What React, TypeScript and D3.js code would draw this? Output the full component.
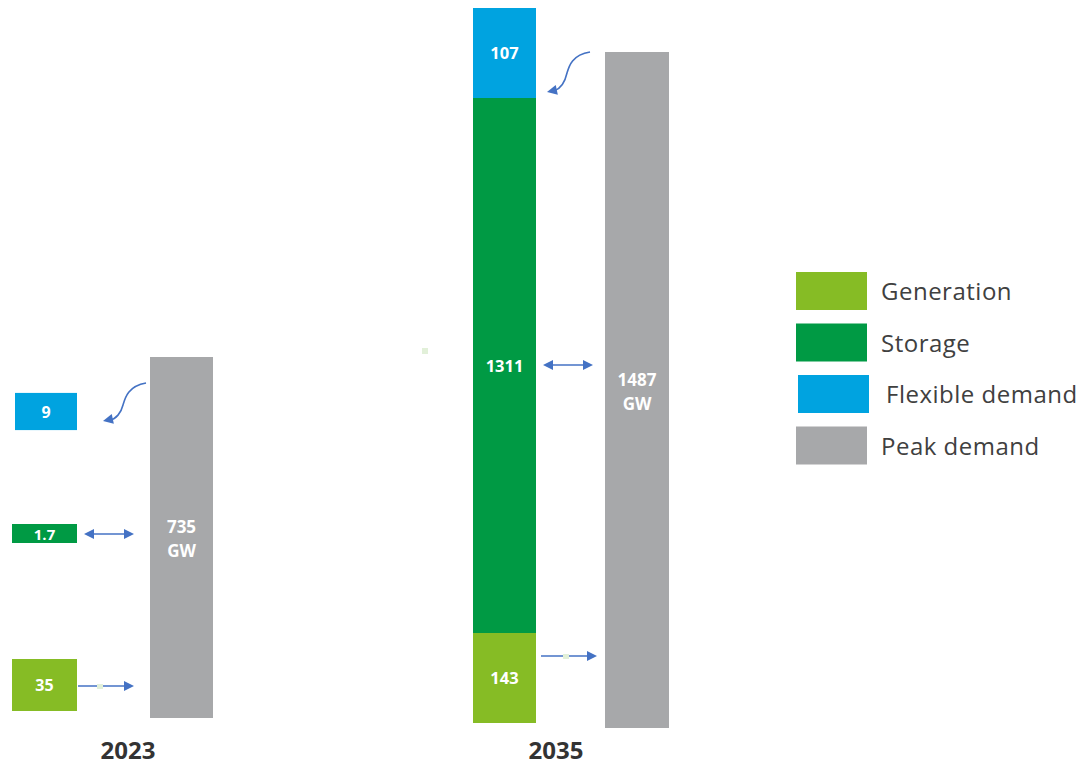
import React from "react";
import * as d3 from "d3";

const categories = ["Generation", "Storage", "Flexible demand"];
const colors = ["#86bc25", "#009a44", "#00a3e0"];
const peakColor = "#a7a8aa";
const years = ["2023", "2035"];
const values2023 = [35, 1.7, 9];
const labels2023 = ["35", "1.7", "9"];
const values2035 = [143, 1311, 107];
const labels2035 = ["143", "1311", "107"];
const peak = [735, 1487];
const legendLabels = ["Generation", "Storage", "Flexible demand", "Peak demand"];

const W = 1090, H = 766;
const ARROW = "#4472c4";

export default function App() {
  // 2023 peak bar scale
  const yPeak23 = d3.scaleLinear().domain([0, peak[0]]).range([718, 357]);
  const yPeak35 = d3.scaleLinear().domain([0, peak[1]]).range([728, 52]);
  // 2035 stack (infographic, piecewise scale)
  const cum = d3.cumsum(values2035);
  const yStack = d3.scaleLinear().domain([0, cum[0], cum[1], cum[2]]).range([723, 633, 98, 8]);
  // 2023 symbolic boxes: height by log scale
  const hBox = d3.scaleLog().domain([1.7, 35]).range([19, 52]);
  const boxCenters = [685, 533.5, 411.5];
  const boxX = [12, 12, 15];

  const font = "'Open Sans', 'DejaVu Sans', sans-serif";

  const arrowHead = (x: number, y: number, angle: number, key: string) => {
    const s = 10, w = 5;
    const p = `M0,0 L${-s},${-w} L${-s},${w} Z`;
    return <path key={key} d={p} fill={ARROW} transform={`translate(${x},${y}) rotate(${angle})`} />;
  };

  return (
    <svg width={W} height={H} style={{ position: "absolute", left: 0, top: 0, background: "#fff" }}>
      {/* 2023 peak bar */}
      <rect x={150} y={yPeak23(peak[0])} width={63} height={yPeak23(0) - yPeak23(peak[0])} fill={peakColor} />
      <text x={181.5} y={533} textAnchor="middle" fill="#fff" fontFamily={font} fontWeight="bold" fontSize={17}>{peak[0]}</text>
      <text x={181.5} y={557} textAnchor="middle" fill="#fff" fontFamily={font} fontWeight="bold" fontSize={17}>GW</text>

      {/* 2023 boxes */}
      {values2023.map((v, i) => {
        const h = hBox(v);
        const x = boxX[i];
        const w = 77 - x;
        return (
          <g key={"b" + i}>
            <rect x={x} y={boxCenters[i] - h / 2} width={w} height={h} fill={colors[i]} />
            <text x={x + w / 2} y={boxCenters[i] + 6} textAnchor="middle" fill="#fff" fontFamily={font} fontWeight="bold" fontSize={i === 1 ? 15 : 16}>{labels2023[i]}</text>
          </g>
        );
      })}

      {/* 2023 arrows */}
      <line x1={78} y1={686} x2={126} y2={686} stroke={ARROW} strokeWidth={1.6} />
      {arrowHead(134, 686, 0, "a1")}
      <rect x={97} y={684} width={6} height={5} fill="#e2f0d9" />
      <line x1={92} y1={534} x2={126} y2={534} stroke={ARROW} strokeWidth={1.6} />
      {arrowHead(134, 534, 0, "a2")}
      {arrowHead(84, 534, 180, "a3")}
      <path d="M146,383 C128,386 125,398 123,405 C121,413 116,419 110,420" fill="none" stroke={ARROW} strokeWidth={1.6} />
      {arrowHead(103, 421, 168, "a4")}

      {/* 2035 stack */}
      {values2035.map((v, i) => {
        const y0 = yStack(i === 0 ? 0 : cum[i - 1]);
        const y1 = yStack(cum[i]);
        return (
          <g key={"s" + i}>
            <rect x={473} y={y1} width={63} height={y0 - y1} fill={colors[i]} />
            <text x={504.5} y={(y0 + y1) / 2 + 6} textAnchor="middle" fill="#fff" fontFamily={font} fontWeight="bold" fontSize={16.5}>{labels2035[i]}</text>
          </g>
        );
      })}

      {/* 2035 peak */}
      <rect x={605} y={yPeak35(peak[1])} width={64} height={yPeak35(0) - yPeak35(peak[1])} fill={peakColor} />
      <text x={637} y={386} textAnchor="middle" fill="#fff" fontFamily={font} fontWeight="bold" fontSize={17}>{peak[1]}</text>
      <text x={637} y={410} textAnchor="middle" fill="#fff" fontFamily={font} fontWeight="bold" fontSize={17}>GW</text>

      {/* 2035 arrows */}
      <line x1={541} y1={656} x2={589} y2={656} stroke={ARROW} strokeWidth={1.6} />
      {arrowHead(597, 656, 0, "b1")}
      <rect x={563} y={654} width={6} height={5} fill="#e2f0d9" />
      <line x1={551} y1={365} x2={585} y2={365} stroke={ARROW} strokeWidth={1.6} />
      {arrowHead(593, 365, 0, "b2")}
      {arrowHead(543, 365, 180, "b3")}
      <path d="M590,52 C572,55 569,66 567,73 C565,82 560,89 554,91" fill="none" stroke={ARROW} strokeWidth={1.6} />
      {arrowHead(547, 92, 168, "b4")}

      <rect x={422} y={348} width={6} height={6} fill="#e2f0d9" />

      {/* year labels */}
      {years.map((y, i) => (
        <text key={y} x={i === 0 ? 128 : 556} y={759} textAnchor="middle" fill="#333" fontFamily={font} fontWeight="bold" fontSize={24}>{y}</text>
      ))}

      {/* legend */}
      {legendLabels.map((l, i) => {
        const y = 272 + i * 51.5;
        const x = i === 2 ? 798 : 796;
        const c = i < 3 ? colors[i] : peakColor;
        return (
          <g key={l}>
            <rect x={x} y={y} width={71} height={38} fill={c} />
            <text x={i === 2 ? 886 : 881} y={y + 28} fill="#404040" fontFamily={font} fontSize={24} letterSpacing={0.5}>{l}</text>
          </g>
        );
      })}
    </svg>
  );
}
